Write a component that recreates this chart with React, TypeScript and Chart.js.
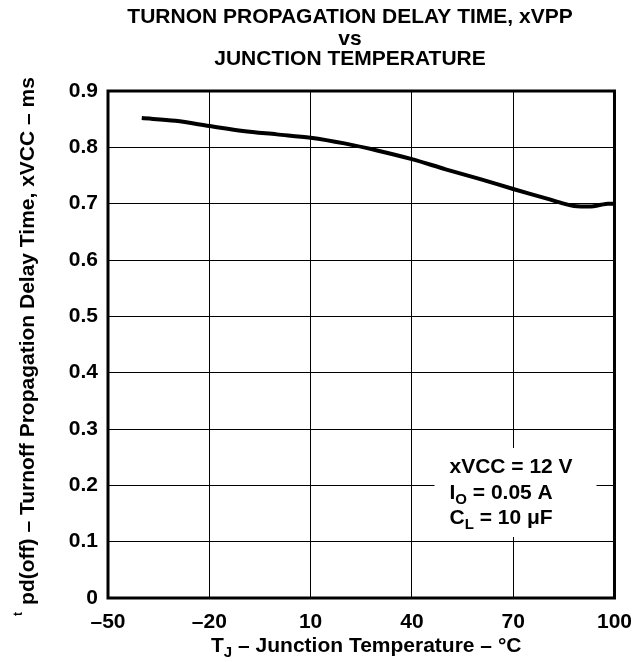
import { useEffect, useRef } from 'react';
import { Chart, registerables } from 'chart.js';

Chart.register(...registerables);

// ---- data ----
const temperatures = [-40, -30, -20, -10, 0, 10, 20, 30, 40, 50, 60, 70, 80, 85, 88, 93, 96, 98, 100];
const delayTimes = [0.852, 0.847, 0.838, 0.829, 0.823, 0.817, 0.807, 0.794, 0.779, 0.761, 0.744, 0.726, 0.709, 0.7, 0.696, 0.695, 0.698, 0.7, 0.7];

const xTickValues = [-50, -20, 10, 40, 70, 100];
const xTickLabels = ['–50', '–20', '10', '40', '70', '100'];
const yTickLabels = ['0', '0.1', '0.2', '0.3', '0.4', '0.5', '0.6', '0.7', '0.8', '0.9'];

const titleLines = ['TURNON PROPAGATION DELAY TIME, xVPP', 'vs', 'JUNCTION TEMPERATURE'];

type Run = { text: string; sub?: boolean };
const conditionLines: Run[][] = [
  [{ text: 'xVCC = 12 V' }],
  [{ text: 'I' }, { text: 'O', sub: true }, { text: ' = 0.05 A' }],
  [{ text: 'C' }, { text: 'L', sub: true }, { text: ' = 10 μF' }],
];
const xTitleRuns: Run[] = [{ text: 'T' }, { text: 'J', sub: true }, { text: ' – Junction Temperature – °C' }];
const yTitleSup = 't';
const yTitleMain = 'pd(off) – Turnoff Propagation Delay Time, xVCC – ms';

const FONT = '"Liberation Sans", Arial, Helvetica, sans-serif';
const MAIN = 21;
const SUB = 15;

function runsWidth(ctx: CanvasRenderingContext2D, runs: Run[]) {
  let w = 0;
  for (const r of runs) {
    ctx.font = `bold ${r.sub ? SUB : MAIN}px ${FONT}`;
    w += ctx.measureText(r.text).width;
  }
  return w;
}

function drawRuns(ctx: CanvasRenderingContext2D, runs: Run[], x: number, y: number) {
  let cx = x;
  for (const r of runs) {
    ctx.font = `bold ${r.sub ? SUB : MAIN}px ${FONT}`;
    ctx.fillText(r.text, cx, r.sub ? y + 5 : y);
    cx += ctx.measureText(r.text).width;
  }
}

const decorPlugin = {
  id: 'decor',
  beforeDatasetsDraw(chart: any) {
    const { ctx, chartArea: a } = chart;
    ctx.save();
    // conditions box (white, covers grid)
    const bx1 = a.right - 18;
    const bx0 = bx1 - 162;
    const by1 = a.bottom - 61;
    const by0 = by1 - 89;
    ctx.fillStyle = '#ffffff';
    ctx.fillRect(bx0, by0, bx1 - bx0, by1 - by0);
    // frame
    ctx.strokeStyle = '#000';
    ctx.lineWidth = 3;
    ctx.strokeRect(a.left, a.top, a.right - a.left, a.bottom - a.top);
    ctx.restore();
  },
  afterDraw(chart: any) {
    const { ctx, chartArea: a } = chart;
    ctx.save();
    ctx.fillStyle = '#000';
    ctx.textBaseline = 'alphabetic';

    // title
    ctx.textAlign = 'center';
    ctx.font = `bold ${MAIN}px ${FONT}`;
    const tx = 350;
    const baselines = [22.5, 44.5, 65];
    titleLines.forEach((l, i) => ctx.fillText(l, tx, baselines[i]));

    ctx.textAlign = 'left';
    // conditions text
    const bx0 = a.right - 18 - 162;
    const by0 = a.bottom - 61 - 89;
    const lineOff = [24.5, 51, 76];
    conditionLines.forEach((runs, i) => drawRuns(ctx, runs, bx0 + 15, by0 + lineOff[i]));

    // x title
    const xw = runsWidth(ctx, xTitleRuns);
    drawRuns(ctx, xTitleRuns, (a.left + a.right) / 2 + 5 - xw / 2, 652);

    // y title (rotated)
    ctx.font = `bold 12px ${FONT}`;
    const supW = ctx.measureText(yTitleSup).width;
    ctx.font = `bold ${MAIN}px ${FONT}`;
    const mainW = ctx.measureText(yTitleMain).width;
    const gap = 7;
    const total = supW + gap + mainW;
    const cy = (a.top + a.bottom) / 2 + 2;
    ctx.translate(34, cy + total / 2);
    ctx.rotate(-Math.PI / 2);
    ctx.font = `bold 12px ${FONT}`;
    ctx.fillText(yTitleSup, 0, -12);
    ctx.font = `bold ${MAIN}px ${FONT}`;
    ctx.fillText(yTitleMain, supW + gap, 0);
    ctx.restore();
  },
};

export default function App() {
  const ref = useRef<HTMLCanvasElement>(null);
  useEffect(() => {
    if (!ref.current) return;
    const chart = new Chart(ref.current, {
      type: 'line',
      data: {
        datasets: [
          {
            data: temperatures.map((t, i) => ({ x: t, y: delayTimes[i] })),
            borderColor: '#000',
            borderWidth: 4,
            pointRadius: 0,
            cubicInterpolationMode: 'monotone',
            fill: false,
          },
        ],
      },
      options: {
        animation: false,
        responsive: false,
        devicePixelRatio: 1,
        layout: { padding: { left: 0, right: 29, top: 91, bottom: 0 } },
        plugins: { legend: { display: false }, title: { display: false }, tooltip: { enabled: false } },
        scales: {
          x: {
            type: 'linear',
            min: -50,
            max: 100,
            border: { display: false },
            grid: { color: '#000', lineWidth: 1, drawTicks: false },
            ticks: {
              stepSize: 30,
              color: '#000',
              padding: 12,
              maxRotation: 0,
              font: { family: FONT, size: MAIN, weight: 'bold' },
              callback: (v: any) => {
                const i = xTickValues.indexOf(Number(v));
                return i >= 0 ? xTickLabels[i] : '';
              },
            },
            afterFit: (s: any) => {
              s.height = 64;
            },
          },
          y: {
            type: 'linear',
            min: 0,
            max: 0.9,
            border: { display: false },
            grid: { color: '#000', lineWidth: 1, drawTicks: false },
            ticks: {
              stepSize: 0.1,
              color: '#000',
              padding: 10,
              font: { family: FONT, size: MAIN, weight: 'bold' },
              callback: (v: any) => yTickLabels[Math.round(Number(v) * 10)] ?? '',
            },
            afterFit: (s: any) => {
              s.width = 108;
            },
          },
        },
      } as any,
      plugins: [decorPlugin],
    });
    return () => chart.destroy();
  }, []);
  return (
    <div style={{ position: 'absolute', left: 0, top: 0, width: 644, height: 662, background: '#fff' }}>
      <canvas ref={ref} width={644} height={662} style={{ display: 'block' }} />
    </div>
  );
}
